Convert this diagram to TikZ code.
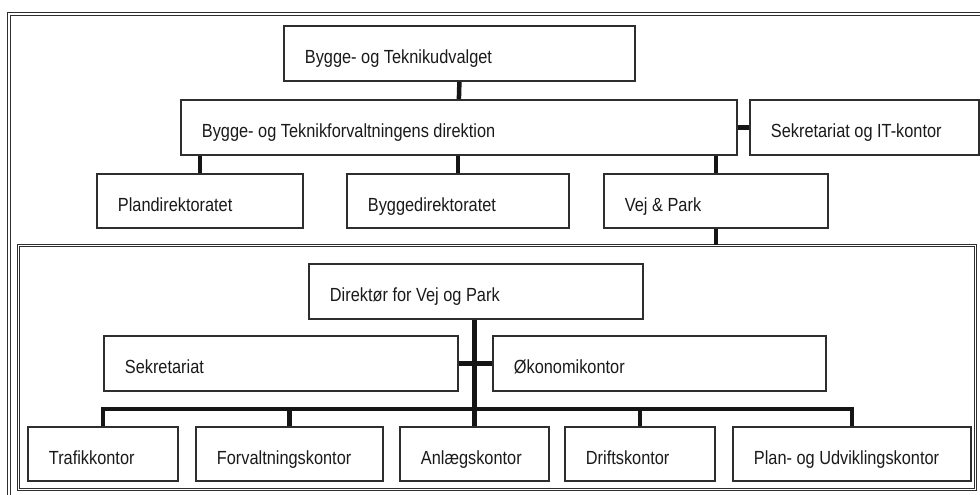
\documentclass[tikz,border=0pt]{standalone}
\usepackage{fontspec}
\setmainfont{Liberation Sans}
\newfontfamily\orgfont{Liberation Sans}[FakeStretch=0.86]
\definecolor{boxc}{HTML}{2E2E2E}
\definecolor{linec}{HTML}{151515}
\definecolor{txtc}{HTML}{1A1A1A}
\newcommand\orgbox[6]{%
  \pgfmathsetmacro\orgtw{#4-42}%
  \node[box, minimum width=#4pt, minimum height=#5pt] (#1) at (#2,#3) {\makebox[\orgtw pt][l]{#6}};}
\begin{document}
\begin{tikzpicture}[x=1pt,y=-1pt,
  box/.style={draw=boxc, line width=1.8pt, fill=white, anchor=north west,
    inner xsep=21pt, inner ysep=0pt, text height=21pt, text depth=0pt,
    font=\orgfont\fontsize{19}{22}\selectfont, text=txtc},
  conn/.style={draw=linec, line width=4.5pt},
  frame/.style={draw=boxc, line width=0.9pt, double=white, double distance=1.6pt}]
\useasboundingbox (0,0) rectangle (980,495);
\fill[white] (0,0) rectangle (980,495);
\begin{scope}
  \clip (0,0) rectangle (980,495);
  \draw[frame] (9,14) rectangle (1000,520);
\end{scope}
\node[frame, anchor=north west, minimum width=957pt, minimum height=244pt, inner sep=0pt] (vpframe) at (18,245) {};
% upper level
\orgbox{top}{283}{25}{351}{55}{Bygge- og Teknikudvalget}
\orgbox{dir}{180}{99}{556}{55}{Bygge- og Teknikforvaltningens direktion}
\orgbox{sekit}{749}{99}{229}{55}{Sekretariat og IT-kontor}
\orgbox{plan}{96}{173}{206}{54}{Plandirektoratet}
\orgbox{bygg}{346}{173}{222}{54}{Byggedirektoratet}
\orgbox{vej}{603}{173}{224}{54}{Vej \& Park}
% inner level
\orgbox{dirvp}{308}{263}{334}{55}{Direktør for Vej og Park}
\orgbox{sek}{103}{335}{354}{55}{Sekretariat}
\orgbox{oko}{492}{335}{333}{55}{Økonomikontor}
\orgbox{traf}{27}{426}{150}{54}{Trafikkontor}
\orgbox{forv}{195}{426}{187}{54}{Forvaltningskontor}
\orgbox{anl}{399}{426}{149}{54}{Anlægskontor}
\orgbox{drift}{564}{426}{150}{54}{Driftskontor}
\orgbox{puk}{732}{426}{238}{54}{Plan- og Udviklingskontor}
% connectors
\draw[conn] (top.south) -- (dir.north);
\draw[conn] (dir.east) -- (sekit.west);
\draw[conn] (plan.north) -- (plan.north |- dir.south);
\draw[conn] (bygg.north) -- (bygg.north |- dir.south);
\draw[conn] (vej.north) -- (vej.north |- dir.south);
\draw[conn] (vej.south) -- (vej.south |- vpframe.north);
\draw[conn] (anl.north) -- (anl.north |- dirvp.south);
\draw[conn] (sek.east) -- (oko.west);
\coordinate (busy) at (0,409);
\draw[conn] (traf.north) -- (traf.north |- busy) -- (puk.north |- busy) -- (puk.north);
\draw[conn] (forv.north) -- (forv.north |- busy);
\draw[conn] (drift.north) -- (drift.north |- busy);
\end{tikzpicture}
\end{document}
